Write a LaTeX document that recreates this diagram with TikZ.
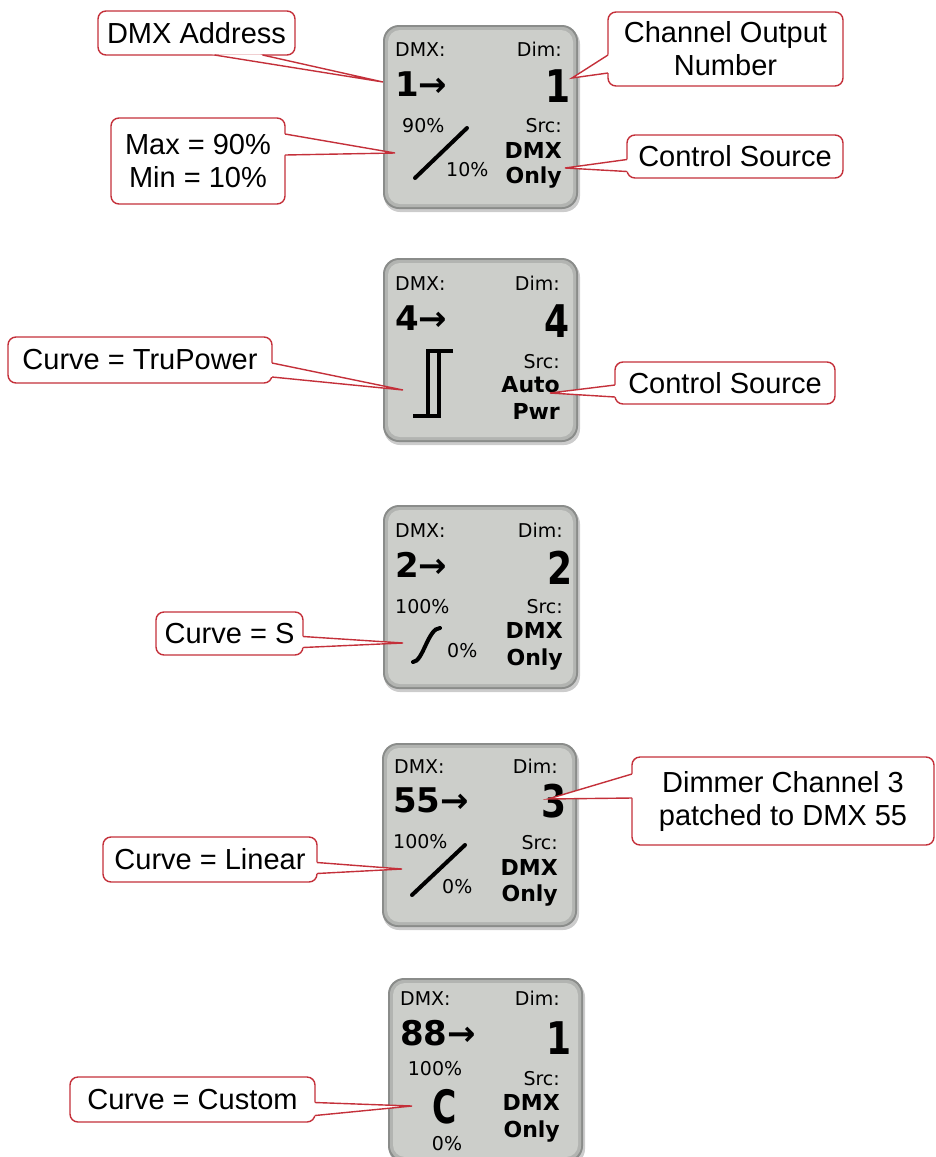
\documentclass[tikz,border=0pt]{standalone}
\usepackage{fontspec}
\setmainfont{Liberation Sans}
\newfontfamily\lcdfont{DejaVu Sans}
\usepackage{graphicx}
\usetikzlibrary{calc}

\definecolor{notered}{RGB}{196,48,58}
\definecolor{lcdgray}{RGB}{204,206,202}
\definecolor{lcdmid}{RGB}{178,180,177}
\definecolor{lcdedge}{RGB}{138,140,138}

\tikzset{
  note/.style={draw=notered, fill=white, line width=1.4pt, rounded corners=8pt,
    inner sep=0pt, outer sep=0pt, align=center, font=\fontsize{29}{33}\selectfont},
  wedge/.style={draw=notered, line width=1.4pt},
  lcd/.style={inner sep=0pt, font=\lcdfont\fontsize{19}{19}\selectfont},
  lcdbold/.style={inner sep=0pt, font=\lcdfont\bfseries\fontsize{22}{22}\selectfont},
  lcdbig/.style={inner sep=0pt, font=\lcdfont\bfseries\fontsize{34}{34}\selectfont},
  lcdhuge/.style={inner sep=0pt, font=\lcdfont\bfseries\fontsize{45}{45}\selectfont},
  curve/.style={line width=4pt, line cap=round}
}

\begin{document}
\begin{tikzpicture}[x=1pt,y=-1pt]
  \useasboundingbox (0,0) rectangle (936,1157);

  % ===== panels =====
  \foreach \px/\py in {383/25, 383/258, 383/505, 382/743, 388/978} {
    \begin{scope}[shift={(\px,\py)}]
      \fill[black!20, rounded corners=16pt] (1,3) rectangle (197,187);
      \fill[lcdedge, rounded corners=16pt] (0,0) rectangle (195,184);
      \fill[lcdmid, rounded corners=14pt] (2,2) rectangle (193,182);
      \fill[lcdgray, rounded corners=12pt] (5,5) rectangle (190,179);
    \end{scope}
  }

  % panel 1: DMX 1 -> Dim 1
  \begin{scope}[shift={(383,25)}]
    \node[lcd, anchor=base west] (p1dmx) at (12,31) {DMX:};
    \node[lcd, anchor=base east] (p1dim) at (179,31) {Dim:};
    \node[lcdbig, anchor=base west] (p1addr) at (12,71) {1→};
    \node[lcdhuge, anchor=base east] (p1out) at (188,77) {\scalebox{0.8}[1]{1}};
    \node[lcd, anchor=base west] (p1max) at (19,107) {90\%};
    \draw[curve] (32,153) -- (84,103);
    \node[lcd, anchor=base west] (p1min) at (63,151) {10\%};
    \node[lcd, anchor=base east] (p1srcl) at (179,107) {Src:};
    \node[lcdbold, anchor=base east] (p1src) at (179,133) {DMX};
    \node[lcdbold, anchor=base east] (p1only) at (179,158) {Only};
  \end{scope}

  % panel 2: TruPower
  \begin{scope}[shift={(383,258)}]
    \node[lcd, anchor=base west] (p2dmx) at (12,32) {DMX:};
    \node[lcd, anchor=base east] (p2dim) at (177,32) {Dim:};
    \node[lcdbig, anchor=base west] (p2addr) at (12,72) {4→};
    \node[lcdhuge, anchor=base east] (p2out) at (187,79) {\scalebox{0.8}[1]{4}};
    \draw[line width=4.5pt] (70,93) -- (45,93) -- (45,158) -- (30,158)
      (45,158) -- (56,158) -- (56,93);
    \node[lcd, anchor=base east] (p2srcl) at (177,110) {Src:};
    \node[lcdbold, anchor=base east] (p2src) at (177,134) {Auto};
    \node[lcdbold, anchor=base east] (p2pwr) at (177,161) {Pwr};
  \end{scope}

  % panel 3: S curve
  \begin{scope}[shift={(383,505)}]
    \node[lcd, anchor=base west] (p3dmx) at (12,32) {DMX:};
    \node[lcd, anchor=base east] (p3dim) at (180,32) {Dim:};
    \node[lcdbig, anchor=base west] (p3addr) at (12,72) {2→};
    \node[lcdhuge, anchor=base east] (p3out) at (190,79) {\scalebox{0.8}[1]{2}};
    \node[lcd, anchor=base west] (p3max) at (12,108) {100\%};
    \draw[curve] (30,157) .. controls (40,157) and (45,123) .. (57,123);
    \node[lcd, anchor=base west] (p3min) at (64,152) {0\%};
    \node[lcd, anchor=base east] (p3srcl) at (180,108) {Src:};
    \node[lcdbold, anchor=base east] (p3src) at (180,133) {DMX};
    \node[lcdbold, anchor=base east] (p3only) at (180,160) {Only};
  \end{scope}

  % panel 4: linear, DMX 55 -> Dim 3
  \begin{scope}[shift={(382,743)}]
    \node[lcd, anchor=base west] (p4dmx) at (12,30) {DMX:};
    \node[lcd, anchor=base east] (p4dim) at (176,30) {Dim:};
    \node[lcdbig, anchor=base west] (p4addr) at (11,69) {55→};
    \node[lcdhuge, anchor=base east] (p4out) at (185,74) {\scalebox{0.8}[1]{3}};
    \node[lcd, anchor=base west] (p4max) at (11,105) {100\%};
    \draw[curve] (30,152) -- (83,102);
    \node[lcd, anchor=base west] (p4min) at (60,150) {0\%};
    \node[lcd, anchor=base east] (p4srcl) at (176,106) {Src:};
    \node[lcdbold, anchor=base east] (p4src) at (176,132) {DMX};
    \node[lcdbold, anchor=base east] (p4only) at (176,158) {Only};
  \end{scope}

  % panel 5: custom
  \begin{scope}[shift={(388,978)}]
    \node[lcd, anchor=base west] (p5dmx) at (12,27) {DMX:};
    \node[lcd, anchor=base east] (p5dim) at (172,27) {Dim:};
    \node[lcdbig, anchor=base west] (p5addr) at (12,67) {88→};
    \node[lcdhuge, anchor=base east] (p5out) at (184,76) {\scalebox{0.8}[1]{1}};
    \node[lcd, anchor=base] (p5max) at (47,97) {100\%};
    \node[lcdhuge, font=\lcdfont\bfseries\fontsize{46}{46}\selectfont, anchor=base] (p5c) at (57,145) {\scalebox{0.72}[1]{C}};
    \node[lcd, anchor=base] (p5min) at (59,172) {0\%};
    \node[lcd, anchor=base east] (p5srcl) at (172,107) {Src:};
    \node[lcdbold, anchor=base east] (p5src) at (172,132) {DMX};
    \node[lcdbold, anchor=base east] (p5only) at (172,159) {Only};
  \end{scope}

  % ===== callouts =====
  % DMX Address
  \coordinate (t1) at (383,82);
  \node[note, minimum width=197pt, minimum height=44pt] (addr) at (196.5,33) {DMX Address};
  \coordinate (a1) at ([xshift=18pt]addr.south);
  \coordinate (b1) at ([xshift=66pt]addr.south);
  \fill[white] ($(a1)!-3pt!(t1)$) -- (t1) -- ($(b1)!-3pt!(t1)$) -- cycle;
  \draw[wedge] (a1) -- (t1) -- (b1);

  % Channel Output Number
  \coordinate (t2) at (572,78);
  \node[note, minimum width=235pt, minimum height=74pt] (chan) at (725.5,49) {Channel Output\\Number};
  \coordinate (a2) at ([yshift=-6pt]chan.west);
  \coordinate (b2) at ([yshift=-24pt]chan.west);
  \fill[white] ($(a2)!-3pt!(t2)$) -- (t2) -- ($(b2)!-3pt!(t2)$) -- cycle;
  \draw[wedge] (a2) -- (t2) -- (b2);

  % Max / Min
  \coordinate (t3) at (395,153);
  \node[note, minimum width=174pt, minimum height=86pt] (maxmin) at (198,161) {Max = 90\%\\Min = 10\%};
  \coordinate (a3) at ([yshift=27pt]maxmin.east);
  \coordinate (b3) at ([yshift=6pt]maxmin.east);
  \fill[white] ($(a3)!-3pt!(t3)$) -- (t3) -- ($(b3)!-3pt!(t3)$) -- cycle;
  \draw[wedge] (a3) -- (t3) -- (b3);

  % Control Source (panel 1)
  \coordinate (t4) at (565,168);
  \node[note, minimum width=216pt, minimum height=43pt] (srcA) at (735,156.5) {Control Source};
  \coordinate (a4) at ([yshift=-3pt]srcA.west);
  \coordinate (b4) at ([yshift=-15pt]srcA.west);
  \fill[white] ($(a4)!-3pt!(t4)$) -- (t4) -- ($(b4)!-3pt!(t4)$) -- cycle;
  \draw[wedge] (a4) -- (t4) -- (b4);

  % Curve = TruPower
  \coordinate (t5) at (403,390);
  \node[note, minimum width=264pt, minimum height=46pt] (tru) at (140,360) {Curve = TruPower};
  \coordinate (a5) at ([yshift=-3pt]tru.east);
  \coordinate (b5) at ([yshift=-17pt]tru.east);
  \fill[white] ($(a5)!-3pt!(t5)$) -- (t5) -- ($(b5)!-3pt!(t5)$) -- cycle;
  \draw[wedge] (a5) -- (t5) -- (b5);

  % Control Source (panel 2)
  \coordinate (t6) at (550,393);
  \node[note, minimum width=220pt, minimum height=42pt] (srcB) at (725,383) {Control Source};
  \coordinate (a6) at ([yshift=-2pt]srcB.west);
  \coordinate (b6) at ([yshift=-14pt]srcB.west);
  \fill[white] ($(a6)!-3pt!(t6)$) -- (t6) -- ($(b6)!-3pt!(t6)$) -- cycle;
  \draw[wedge] (a6) -- (t6) -- (b6);

  % Curve = S
  \coordinate (t7) at (403,643);
  \node[note, minimum width=147pt, minimum height=43pt] (scurve) at (229.5,633.5) {Curve = S};
  \coordinate (a7) at ([yshift=-3pt]scurve.east);
  \coordinate (b7) at ([yshift=-14pt]scurve.east);
  \fill[white] ($(a7)!-3pt!(t7)$) -- (t7) -- ($(b7)!-3pt!(t7)$) -- cycle;
  \draw[wedge] (a7) -- (t7) -- (b7);

  % Dimmer Channel 3
  \coordinate (t8) at (548,799);
  \node[note, minimum width=302pt, minimum height=88pt] (dim3) at (783,801) {Dimmer Channel 3\\patched to DMX 55};
  \coordinate (a8) at ([yshift=27pt]dim3.west);
  \coordinate (b8) at ([yshift=3pt]dim3.west);
  \fill[white] ($(a8)!-3pt!(t8)$) -- (t8) -- ($(b8)!-3pt!(t8)$) -- cycle;
  \draw[wedge] (a8) -- (t8) -- (b8);

  % Curve = Linear
  \coordinate (t9) at (402,869);
  \node[note, minimum width=214pt, minimum height=45pt] (linear) at (210,859.5) {Curve = Linear};
  \coordinate (a9) at ([yshift=-3pt]linear.east);
  \coordinate (b9) at ([yshift=-14pt]linear.east);
  \fill[white] ($(a9)!-3pt!(t9)$) -- (t9) -- ($(b9)!-3pt!(t9)$) -- cycle;
  \draw[wedge] (a9) -- (t9) -- (b9);

  % Curve = Custom
  \coordinate (t10) at (412,1106);
  \node[note, minimum width=245pt, minimum height=45pt] (custom) at (192.5,1099.5) {Curve = Custom};
  \coordinate (a10) at ([yshift=-3pt]custom.east);
  \coordinate (b10) at ([yshift=-16pt]custom.east);
  \fill[white] ($(a10)!-3pt!(t10)$) -- (t10) -- ($(b10)!-3pt!(t10)$) -- cycle;
  \draw[wedge] (a10) -- (t10) -- (b10);
\end{tikzpicture}
\end{document}
